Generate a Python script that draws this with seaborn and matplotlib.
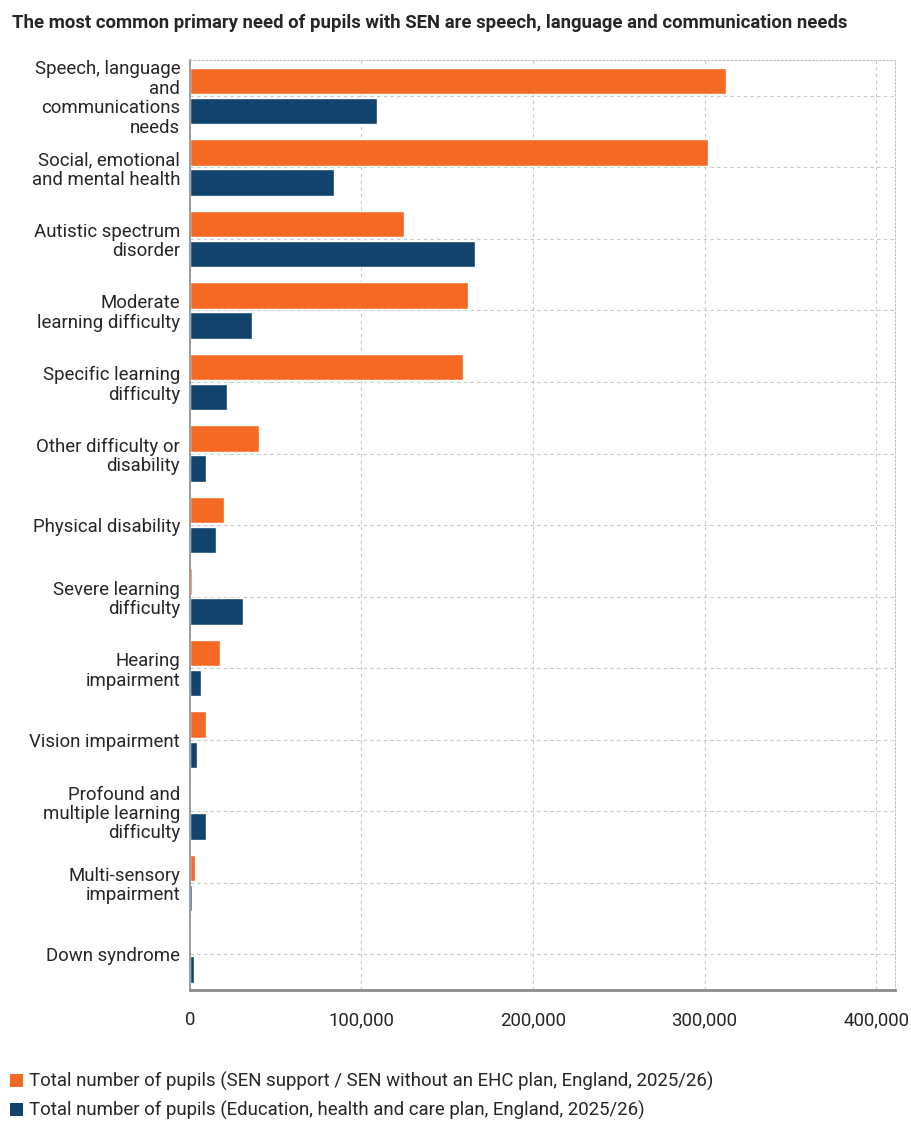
import matplotlib
matplotlib.use('Agg')
import matplotlib.pyplot as plt
from matplotlib.patches import Patch
from matplotlib.ticker import FuncFormatter
import seaborn as sns
import pandas as pd

needs = [
    "Speech, language\nand\ncommunications\nneeds",
    "Social, emotional\nand mental health",
    "Autistic spectrum\ndisorder",
    "Moderate\nlearning difficulty",
    "Specific learning\ndifficulty",
    "Other difficulty or\ndisability",
    "Physical disability",
    "Severe learning\ndifficulty",
    "Hearing\nimpairment",
    "Vision impairment",
    "Profound and\nmultiple learning\ndifficulty",
    "Multi-sensory\nimpairment",
    "Down syndrome",
]
sen_support = [312500, 302000, 125000, 162000, 159000, 40500, 20000, 1400,
               17300, 9300, 400, 2900, 200]
ehc_plan = [109000, 84000, 166000, 36000, 21500, 9500, 15000, 31000,
            6300, 3900, 9100, 1200, 2200]
series_names = [
    "Total number of pupils (SEN support / SEN without an EHC plan, England, 2025/26)",
    "Total number of pupils (Education, health and care plan, England, 2025/26)",
]
colors = ["#F46A25", "#12436D"]

df = pd.DataFrame({
    "need": needs * 2,
    "pupils": sen_support + ehc_plan,
    "series": [series_names[0]] * len(needs) + [series_names[1]] * len(needs),
})

sns.set_style("white")
plt.rcParams['font.family'] = ['Roboto', 'DejaVu Sans']

fig = plt.figure(figsize=(9.12, 11.46), dpi=100)
ax = fig.add_axes([0.2083, 0.136, 0.773, 0.8116])

sns.barplot(data=df, y="need", x="pupils", hue="series", palette=colors,
            orient="h", width=0.84, gap=0.12, legend=False, ax=ax,
            saturation=1, errorbar=None)

ax.set_xlim(0, 411000)
ax.set_xticks([0, 100000, 200000, 300000, 400000])
ax.xaxis.set_major_formatter(FuncFormatter(lambda v, p: f"{int(v):,}"))
ax.set_xlabel("")
ax.set_ylabel("")

ax.grid(True, axis="both", linestyle=(0, (3, 3)), color="#c8c8c8", linewidth=0.8)
ax.set_axisbelow(True)

for side in ["top", "right"]:
    ax.spines[side].set_linestyle((0, (1.5, 2)))
    ax.spines[side].set_color("#c0c0c0")
    ax.spines[side].set_linewidth(0.8)
ax.spines["left"].set_color("#8c8c8c")
ax.spines["left"].set_linewidth(1.2)
ax.spines["bottom"].set_color("#8c8c8c")
ax.spines["bottom"].set_linewidth(2)

ax.tick_params(axis="y", length=5, color="#8c8c8c", width=1, labelsize=13.4, pad=2)
ax.tick_params(axis="x", length=0, labelsize=13.4, pad=15)
for lbl in ax.get_yticklabels():
    lbl.set_linespacing(1.1)

fig.text(0.013, 0.980, "The most common primary need of pupils with SEN are speech, language and communication needs",
         fontsize=13.3, fontweight="bold", va="center", ha="left")

handles = [Patch(facecolor=c, edgecolor="none") for c in colors]
fig.legend(handles, series_names, loc="lower left", bbox_to_anchor=(0.003, 0.016),
           frameon=False, fontsize=13.4, handlelength=0.7, handleheight=0.7,
           handletextpad=0.3, labelspacing=0.55, borderaxespad=0)

fig.savefig("out.png", dpi=100)
plt.close(fig)
